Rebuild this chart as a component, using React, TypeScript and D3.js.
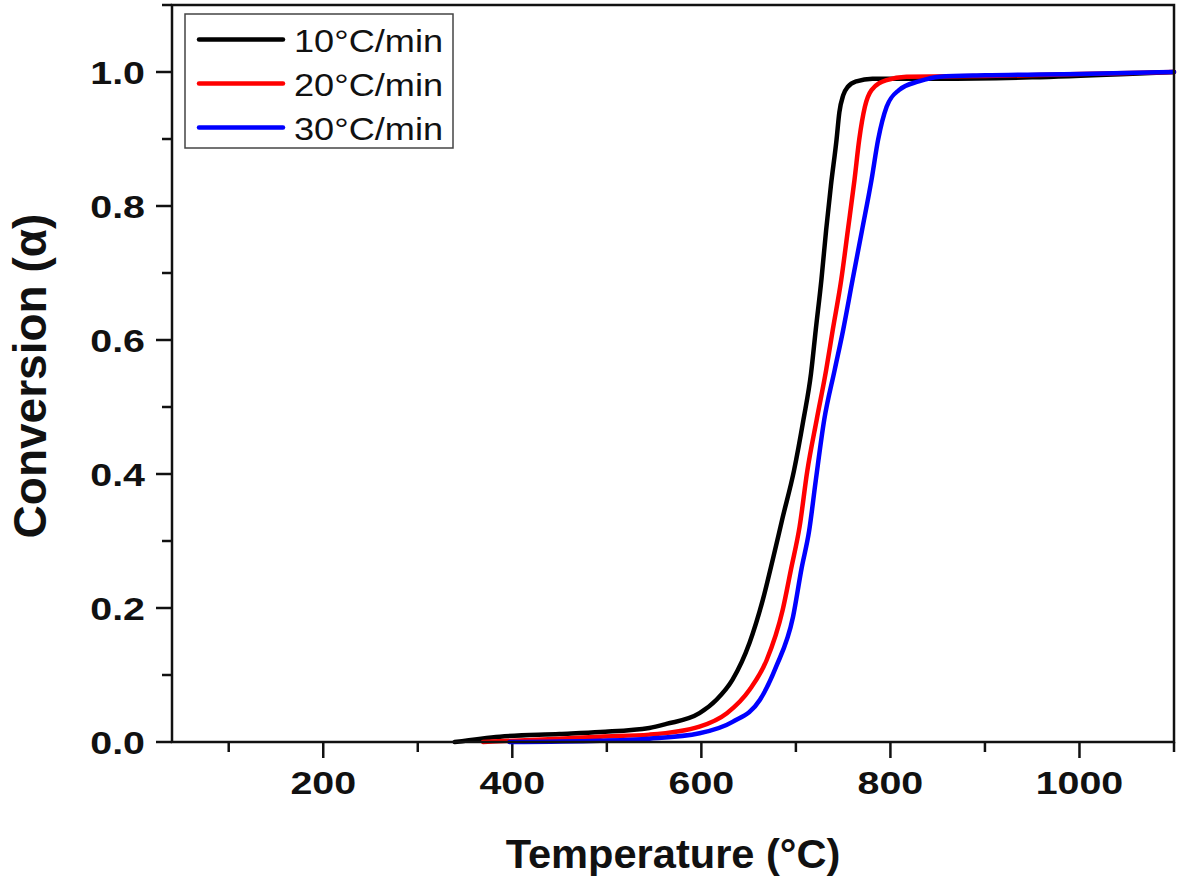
import { useEffect, useRef } from "react";
import * as d3 from 'd3'

// conversion curves
const temp10 = [339, 387, 450, 493, 545, 563, 598, 616, 633, 651, 665, 676, 686, 698, 708, 716, 721, 727, 732, 737, 743, 746, 750, 755, 764, 781, 850, 950, 1050, 1100]
const conv10 = [0, 0.008, 0.012, 0.015, 0.021, 0.027, 0.043, 0.063, 0.093, 0.148, 0.212, 0.275, 0.335, 0.405, 0.481, 0.55, 0.615, 0.69, 0.764, 0.83, 0.899, 0.94, 0.965, 0.978, 0.986, 0.99, 0.99, 0.992, 0.997, 1.0]

const temp20 = [369, 450, 493, 545, 598, 627, 651, 669, 686, 695, 704, 712, 722, 732, 739, 748, 755, 762, 767, 773, 780, 796, 817, 900, 1000, 1100]
const conv20 = [0, 0.005, 0.008, 0.011, 0.023, 0.043, 0.078, 0.122, 0.197, 0.259, 0.322, 0.404, 0.481, 0.555, 0.615, 0.69, 0.764, 0.839, 0.899, 0.948, 0.973, 0.988, 0.993, 0.994, 0.997, 1.0]

const temp30 = [397, 493, 545, 598, 633, 662, 679, 697, 706, 714, 721, 730, 741, 750, 760, 770, 780, 787, 796, 809, 830, 852, 900, 1000, 1100]
const conv30 = [0, 0.002, 0.005, 0.013, 0.03, 0.063, 0.112, 0.187, 0.259, 0.315, 0.39, 0.481, 0.555, 0.615, 0.69, 0.764, 0.839, 0.899, 0.948, 0.973, 0.986, 0.993, 0.995, 0.997, 1.0]

const seriesNames = ['10°C/min', '20°C/min', '30°C/min']
const seriesColors = ['#000000', '#ff0000', '#0000ff']

const xMajor = [200, 400, 600, 800, 1000]
const xMinor = [100, 300, 500, 700, 900, 1100]
const yMajor = [0, 0.2, 0.4, 0.6, 0.8, 1.0]
const yMinor = [0.1, 0.3, 0.5, 0.7, 0.9, 1.1]

const FONT = '"Liberation Sans", Arial, sans-serif'

function drawChart(svgRef: any) {
    const svg = d3.select(svgRef.current)
    svg.selectAll('*').remove()

    const left = 172, right = 1174, top = 5, bottom = 742
    const x = d3.scaleLinear().domain([40, 1100]).range([left, right])
    const y = d3.scaleLinear().domain([0, 1.1]).range([bottom, top])

    const series = [
        temp10.map((t, i) => [t, conv10[i]]),
        temp20.map((t, i) => [t, conv20[i]]),
        temp30.map((t, i) => [t, conv30[i]]),
    ]

    const line = d3.line()
        .x((d: any) => x(d[0]))
        .y((d: any) => y(d[1]))
        .curve(d3.curveMonotoneX)

    // ticks
    const g = svg.append('g').attr('stroke', '#111').attr('stroke-width', 2.5)
    xMajor.forEach(v => g.append('line').attr('x1', x(v)).attr('x2', x(v)).attr('y1', bottom).attr('y2', bottom + 16))
    xMinor.forEach(v => g.append('line').attr('x1', x(v)).attr('x2', x(v)).attr('y1', bottom).attr('y2', bottom + 10))
    yMajor.forEach(v => g.append('line').attr('x1', left - 16).attr('x2', left).attr('y1', y(v)).attr('y2', y(v)))
    yMinor.forEach(v => g.append('line').attr('x1', left - 10).attr('x2', left).attr('y1', y(v)).attr('y2', y(v)))

    // curves
    series.forEach((s, i) => {
        svg.append('path')
            .attr('d', line(s as any))
            .attr('fill', 'none')
            .attr('stroke', seriesColors[i])
            .attr('stroke-width', 4.5)
            .attr('stroke-linejoin', 'round')
            .attr('stroke-linecap', 'round')
    })

    // frame
    svg.append('rect')
        .attr('x', left).attr('y', top)
        .attr('width', right - left).attr('height', bottom - top)
        .attr('fill', 'none')
        .attr('stroke', '#111')
        .attr('stroke-width', 2.5)

    // tick labels
    xMajor.forEach(v => {
        svg.append('text')
            .attr('transform', `translate(${x(v)},${bottom + 52}) scale(1.23,1)`)
            .attr('text-anchor', 'middle')
            .attr('font-family', FONT).attr('font-weight', 'bold').attr('font-size', 32)
            .attr('fill', '#111')
            .text(v)
    })
    yMajor.forEach(v => {
        svg.append('text')
            .attr('transform', `translate(${left - 27},${y(v) + 11.5}) scale(1.23,1)`)
            .attr('text-anchor', 'end')
            .attr('font-family', FONT).attr('font-weight', 'bold').attr('font-size', 32)
            .attr('fill', '#111')
            .text(v.toFixed(1))
    })

    // axis titles
    svg.append('text')
        .attr('transform', `translate(${(left + right) / 2},868) scale(1.04,1)`)
        .attr('text-anchor', 'middle')
        .attr('font-family', FONT).attr('font-weight', 'bold').attr('font-size', 40)
        .attr('fill', '#111')
        .text('Temperature (°C)')
    svg.append('text')
        .attr('transform', `translate(46,376) rotate(-90)`)
        .attr('text-anchor', 'middle')
        .attr('font-family', FONT).attr('font-weight', 'bold').attr('font-size', 46)
        .attr('fill', '#111')
        .text('Conversion (α)')

    // legend
    const lg = svg.append('g')
    lg.append('rect')
        .attr('x', 185).attr('y', 14).attr('width', 268).attr('height', 134)
        .attr('fill', 'white').attr('stroke', '#444').attr('stroke-width', 1.5)
    seriesNames.forEach((name, i) => {
        const ly = 39.5 + i * 44
        lg.append('line')
            .attr('x1', 199).attr('x2', 283).attr('y1', ly).attr('y2', ly)
            .attr('stroke', seriesColors[i]).attr('stroke-width', 4.5)
            .attr('stroke-linecap', 'round')
        lg.append('text')
            .attr('transform', `translate(294,${ly + 12}) scale(1.13,1)`)
            .attr('font-family', FONT).attr('font-size', 32)
            .attr('fill', '#111')
            .text(name)
    })
}

export default function App() {
    const svgRef = useRef<SVGSVGElement>(null)
    useEffect(() => {
        drawChart(svgRef)
    }, [])
    return (
        <svg ref={svgRef} width={1181} height={884}
            style={{ position: 'absolute', left: 0, top: 0, background: 'white' }} />
    )
}
